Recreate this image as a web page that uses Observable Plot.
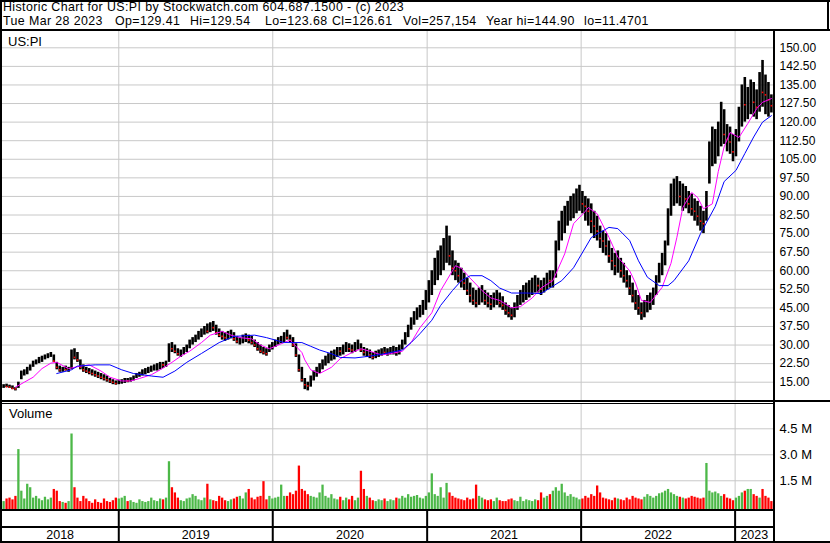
<!DOCTYPE html>
<html><head><meta charset="utf-8">
<script src="https://cdn.jsdelivr.net/npm/d3@7"></script>
<script src="https://cdn.jsdelivr.net/npm/@observablehq/plot@0.6"></script>
<style>
html,body{margin:0;padding:0;background:#fff;}
#wrap{position:relative;width:830px;height:543px;overflow:hidden;font-family:Arial,"Liberation Sans",sans-serif;color:#000;}
.hdr{position:absolute;font-size:12.4px;line-height:14.3px;letter-spacing:0.4px;white-space:pre;}
.lbl{position:absolute;font-size:13px;line-height:15px;white-space:pre;}
.ln{position:absolute;background:#000;}
</style></head>
<body><div id="wrap"></div>
<script>
// ---- Data (weekly bars) ----
const hi = [
14,14.2,13.8,13.5,12.8,15,19.5,20,21,22,
23.5,24,25,25.5,26,26.5,27,26,23,21.5,
21,21.5,21,28,28.5,27,24,22,21,20.5,
20,19.5,19,18.5,18,17.5,16.5,16,15.5,15.8,
16,16.5,16.5,16.8,17.5,18.5,19,20,20.5,21,
21.5,22,22.5,23,23,23.5,30.5,31,30,28.5,
28,29,30,32,33,34,35.5,36.5,37.5,38.5,
39,39.5,38,36.5,35.5,35,35.5,36,35,33.5,
33,34,34.5,34,33.5,32,31,30,29,28.5,
30,31,32,33,33.5,35,36,34,33,30.5,
26,21,16.5,15,17.5,19.5,21,22.5,24,25.5,
26.5,27.5,28,29,29,30,31,30.5,30,31,
32,30.5,29,28.5,28,27,27.5,28,28.5,29,
28.5,29,29.5,29,30,32,35,38,41,43.5,
45,46,48,52,56,60,65,68,70,73,
78,74,68,64,63,61,59,57,55,53,
52,53,54,52,51,50,51,52,51,49.5,
47,46,45,47,50,52,54,55,56,57,
58,57,56,57,59,60,60,72,80,84,
86,88,90,91,93,94.5,92,90,89,87,
84,82,78,76,75,72,69,67,68,65,
63,60,58,55,52,50,47,48,50,51,
53,58,63,67,72,85,95,97,98,96,
95,94,92,91,89,88,86,84,92,112,
118,117,120,128,125,119,118,115,117,126,
135,138,134,137,136,133,140,144.9,139,136,131];
const lo = [
12.5,12.8,12.5,12,11.47,12.5,16,17.5,18,19.5,
21,22,22.5,23,24,24.5,25,23,20,19,
19,19.5,19,20,24,23,20,19,18.5,18,
17.5,17,16.5,16,15.5,15,14.5,14,13.8,14,
14.2,14.5,14.8,15,15.5,16.5,17,17.5,18,18.5,
19,19.5,19.5,20,20.5,21,23,27,26.5,25.5,
25,26,27,28.5,30,31,32,33,34,34.5,
35,35.5,34,33,32,31.5,32,32.5,31.5,30.5,
30,30.5,31,30.5,30,29,27.5,26.5,26,25.5,
27,28,29,30,30.5,31,32,31,29,25,
19,15,12,11.5,13,15.5,17,18.5,20,21.5,
22.5,23.5,24,25,25.5,26,27,27,26.5,27,
28,27,25.5,25,24.5,24,24.5,25,25.5,26,
25.5,26,26,25.5,26,28,30,33,36,38,
40,41,42,44,47,50,54,56,58,60,
63,62,58,56,55,53,52,50,47,46,
45,46,47,46,45,44,45,46,45,44,
42,41,40,41,44,46,47,48,49,50,
51,51,50,51,52,53,53,57,68,72,
75,78,80,81,83,84,83,80,78,75,
73,72,69,67,66,63,60,58,59,57,
55,53,50,47,44,42,40,41,43,44,
46,50,55,58,62,70,82,86,87,86,
84,85,83,82,80,78,76,75,80,95,
102,103,106,110,111,108,107,104,106,112,
118,120,121,123,122,121,124,126,123,122,123.68];
const cl = [
13.5,13.2,13,12.5,12.3,14.8,18.5,19,20.5,21.5,
22.8,23.5,24,25,25,25.8,26,23.5,21,20,
20.5,20,20.5,26,25,24,21,20,19.5,19,
18.5,18,17.5,17,16.5,16,15.5,15,14.5,15,
15.5,16,15.5,16,17,18,18.5,19,19.5,20,
21,21.5,22,22.5,22,23,30,28.5,27.5,26.5,
27,28,29.5,31,32,33,34.5,35.5,36,35.5,
37.5,37,35,34,33.5,33,34,35,32.5,31.5,
31.5,33,33,32,31,30,28.5,27.5,27,26.5,
29,30,31,32,32.5,34,33,32,30,26,
20,16,14,13.5,16.5,18,20,21.5,22.5,24.5,
25.5,26,27,28,27.5,29,29.5,28.5,28,30,
30.5,28,27,27.5,26,25,26,26.5,27.5,27,
27,28,28.5,27,29.5,31,34,37,40,42,
43,44.5,46,50,54,58,60,64,66,68,
70,66,61,60,58,56,55,52,50,48,
47,47.5,50,48,47,46.5,48,49,47,46,
44,43,42,45.5,48.5,50,52,53,54.5,55,
56,54,52.5,55,57,56,58,70,76,80,
82,85,86,88,89,90,87,86,84,80,
78,76,73,72,70,66,64,62,64,60,
58,56,53,50,47,45,43,45,47,48,
51,56,60,65,70,82,90,92,93,90,
91,89,87,85,84,82,80,79,90,106,
110,112,116,120,115,113,112,108,114,122,
128,127,130,131,128,126,134,132,131,129,126.61];
// volume in millions
const vol = [
0.3,0.45,0.5,0.4,0.6,3.3,0.9,0.45,1.3,1.1,
0.5,0.6,0.45,0.35,0.55,0.4,0.5,1.0,0.9,0.3,
0.25,0.2,0.3,4.2,1.1,0.5,0.3,0.6,0.45,0.3,
0.2,0.4,0.25,0.2,0.45,0.3,0.25,0.35,0.5,0.45,
0.5,0.6,0.3,0.35,0.25,0.2,0.4,0.3,0.25,0.3,
0.5,0.35,0.3,0.45,0.4,0.5,2.6,1.1,0.8,0.5,
0.35,0.3,0.45,0.5,0.7,0.6,0.4,0.35,0.5,1.3,
0.4,0.35,0.3,0.6,0.5,0.35,0.3,0.4,0.45,0.55,
0.6,0.45,0.8,1.0,0.5,0.4,0.55,0.6,1.45,0.4,
0.6,0.45,0.5,0.55,1.25,0.6,0.6,0.8,0.7,0.9,
2.35,1.0,0.9,0.7,0.6,0.55,0.5,0.8,1.25,0.6,
0.5,0.7,0.45,0.4,0.55,0.35,0.5,0.4,0.6,0.35,
0.5,2.05,1.0,0.6,0.5,0.35,0.3,0.4,0.35,0.45,
0.3,0.4,0.35,0.5,0.45,0.6,0.5,0.7,0.55,0.6,
0.65,0.5,0.45,0.6,0.8,1.9,0.7,0.6,1.1,0.5,
1.35,0.8,0.6,0.5,0.45,0.4,0.35,0.5,0.4,0.45,
1.25,0.6,0.5,0.4,0.35,0.4,0.3,0.5,0.35,0.3,
0.3,0.4,0.45,0.35,0.3,0.55,0.3,0.4,0.35,0.3,
0.4,0.35,0.8,0.5,0.6,0.7,0.9,1.1,0.9,1.3,
0.8,0.6,0.7,0.55,0.5,0.4,0.45,0.6,0.5,0.7,
0.6,1.2,0.8,0.5,0.45,0.4,0.35,0.5,0.45,0.4,
0.35,0.5,0.4,0.6,0.5,0.45,0.4,0.55,0.7,0.6,
0.5,0.6,0.75,0.8,0.9,1.0,0.8,0.7,0.6,0.55,
0.5,0.45,0.5,0.6,0.55,0.5,0.45,0.5,2.5,0.9,
0.8,0.85,0.75,0.6,0.7,0.5,0.45,0.35,0.5,0.6,
0.8,0.9,1.0,1.0,0.7,0.6,0.5,1.0,0.6,0.5,0.3];
// short moving average (magenta): week index -> value
const magWeek = [4,7,10,13,16,18,22,26,29,33,36,40,43,46,50,53,57,60,63,67,70,74,77,80,84,87,90,94,97,101,102,104,107,111,114,118,121,124,128,131,135,138,141,145,148,152,153,155,158,162,165,168,172,175,179,182,186,190,193,197,198,201,205,208,212,214,216,219,223,226,228,230,233,235,237,240,242,244,246,249,252,255,257,260];
const magVal  = [13,15,17,20.5,22.7,23,20.5,21.5,22,19.5,17,15.5,15.5,16.5,18,20,23,25.5,27.5,31,34,35.5,34,33,32.5,30,28.5,30.5,32,27,24,20,18.5,21,24.5,27,28.5,27.5,26,26.5,27.5,31,37,43,52,60,62,61,57,52,49,48,45,45.5,49,53,56,66.8,79,84,85.5,83,73.5,65.5,60,55,48,47.2,53.3,63,73.5,85.5,91.6,89.6,85,87,100,110,115.8,113.8,119.4,125.4,128,129.5];
// long moving average (blue)
const bluWeek = [18,23,25,31,36,40,44,50,54,58,62,67,73,78,85,89,95,101,104,107,111,114,119,124,129,135,138,141,145,148,152,155,158,162,165,168,172,177,182,189,193,199,205,208,212,215,218,222,225,227,232,236,241,244,248,251,254,257,260];
const bluVal  = [18.5,20,21.5,22,22,20,18.5,17.5,17,19.5,23,26.6,31,33.5,34,33,31,31,29.5,28,26.5,25,24.8,25.5,26.5,28,31,34.6,40,46,52,56,58,58,56,53,51,51,50.8,56,61.2,73.4,77.5,77,72.2,64,57.4,54,54,56,64,75,86,96,100.5,107.3,114,120,122.6];
const priceTicks = [15,22.5,30,37.5,45,52.5,60,67.5,75,82.5,90,97.5,105,112.5,120,127.5,135,142.5,150];
const volTicks = [1.5,3.0,4.5];
const years = [2018,2019,2020,2021,2022,2023];
const headerLine1 = "Historic Chart for US:PI by Stockwatch.com 604.687.1500 - (c) 2023";
const headerFields = ["Tue Mar 28 2023","Op=129.41","Hi=129.54","Lo=123.68","Cl=126.61","Vol=257,154","Year hi=144.90","lo=11.4701"];
const headerLefts = [3,115,190,265,332,403,486,584];
const symbolLabel = "US:PI";

// ---- Build ----
const wrap = document.getElementById("wrap");
const dates = hi.map((_, i) => new Date(2018, 3, 3 + 7 * i));
const rows = dates.map((d, i) => ({d, lo: lo[i], hi: hi[i], cl: cl[i], v: vol[i], up: i === 0 ? true : cl[i] >= cl[i - 1]}));
const mag = magWeek.map((w, i) => ({d: dates[w], v: magVal[i]}));
const blu = bluWeek.map((w, i) => ({d: dates[w], v: bluVal[i]}));
const xDomain = [new Date(2018, 2, 29), new Date(2023, 3, 2)];
const yearStarts = years.slice(1).map(y => new Date(y, 0, 1));
const font = "Arial, 'Liberation Sans', sans-serif";

function place(el, top, left) {
  el.style.position = "absolute"; el.style.top = top + "px"; el.style.left = (left || 0) + "px";
  wrap.appendChild(el);
}
function line(l, t, w, h) { const d = document.createElement("div"); d.className = "ln"; d.style.cssText = `left:${l}px;top:${t}px;width:${w}px;height:${h}px;`; wrap.appendChild(d); }
function text(s, l, t, cls) { const d = document.createElement("div"); d.className = cls; d.style.left = l + "px"; d.style.top = t + "px"; d.textContent = s; wrap.appendChild(d); }

// price panel
const price = Plot.plot({
  width: 830, height: 370,
  marginLeft: 1, marginRight: 57, marginTop: 0, marginBottom: 0,
  x: {type: "time", domain: xDomain, axis: null},
  y: {domain: [7.21, 156.58], axis: "right", ticks: priceTicks, tickFormat: d => d.toFixed(2), tickSize: 0, tickPadding: 6, label: null},
  style: {fontFamily: font, fontSize: "12px", background: "transparent", color: "#000", overflow: "visible"},
  marks: [
    Plot.ruleY(priceTicks, {y: d => d, stroke: "#c8c8c8", strokeOpacity: 1}),
    Plot.ruleX(yearStarts, {x: d => d, stroke: "#c8c8c8", strokeOpacity: 1}),
    Plot.ruleX(rows, {x: "d", y1: "lo", y2: "hi", stroke: "#000", strokeWidth: 2.6, strokeOpacity: 1}),
    Plot.dot(rows.filter(r => !r.up), {x: "d", y: "cl", r: 0.9, fill: "#ff0000", stroke: null, symbol: "square"}),
    Plot.line(mag, {x: "d", y: "v", stroke: "#ff00ff", strokeWidth: 1}),
    Plot.line(blu, {x: "d", y: "v", stroke: "#0000ff", strokeWidth: 1})
  ]
});
place(price, 31, 0);

// volume panel
const volBase = -0.157;
const volume = Plot.plot({
  width: 830, height: 106,
  marginLeft: 1, marginRight: 57, marginTop: 0, marginBottom: 0,
  x: {type: "time", domain: xDomain, axis: null},
  y: {domain: [volBase, 5.96], axis: "right", ticks: volTicks, tickFormat: d => d.toFixed(1) + " M", tickSize: 0, tickPadding: 6, label: null},
  style: {fontFamily: font, fontSize: "13px", background: "transparent", color: "#000", overflow: "visible"},
  marks: [
    Plot.ruleY(volTicks, {y: d => d, stroke: "#c8c8c8", strokeOpacity: 1}),
    Plot.ruleX(yearStarts, {x: d => d, stroke: "#c8c8c8", strokeOpacity: 1}),
    Plot.ruleX(rows, {x: "d", y1: volBase, y2: "v", stroke: d => d.up ? "#4cb848" : "#ff0000", strokeWidth: 2.3, strokeOpacity: 1})
  ]
});
place(volume, 403, 0);

// year strip
const mids = years.map(y => {
  const a = Math.max(+new Date(y, 0, 1), +xDomain[0]);
  const b = Math.min(+new Date(y + 1, 0, 1), +xDomain[1]);
  return {d: new Date((a + b) / 2), label: String(y)};
});
const strip = Plot.plot({
  width: 830, height: 33,
  marginLeft: 1, marginRight: 57, marginTop: 0, marginBottom: 0,
  x: {type: "time", domain: xDomain, axis: null},
  y: {domain: [0, 33], axis: null, reverse: true},
  style: {fontFamily: font, fontSize: "12.5px", background: "transparent", color: "#000"},
  marks: [
    Plot.ruleX(yearStarts, {x: d => d, y1: 0, y2: 33, stroke: "#000", strokeWidth: 2}),
    Plot.text(mids, {x: "d", y: 24.5, text: "label", fill: "#000"})
  ]
});
place(strip, 510, 0);

// frame lines
line(0, 0, 830, 2);          // top
line(0, 0, 2, 543);          // left
line(827, 0, 2, 31);         // header right
line(0, 29, 830, 2);         // header bottom
line(773, 31, 2, 512);       // axis separator
line(0, 400, 830, 2);        // price bottom
line(0, 403, 773, 1);        // volume top
line(0, 509, 773, 2);        // volume bottom
line(0, 526, 773, 2);        // year strip mid
line(0, 541, 830, 2);        // bottom

// texts
text(headerLine1, 3, 0.4, "hdr");
headerFields.forEach((s, i) => text(s, headerLefts[i], 14.4, "hdr"));
text(symbolLabel, 8, 34, "lbl");
text("Volume", 9, 406, "lbl");
</script></body></html>
